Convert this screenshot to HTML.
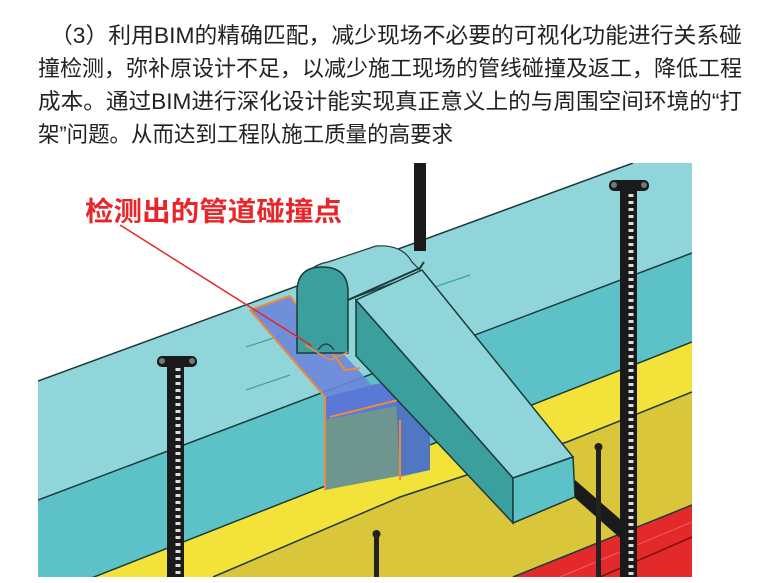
<!DOCTYPE html>
<html><head><meta charset="utf-8"><style>
html,body{margin:0;padding:0;background:#fff;width:768px;height:583px;overflow:hidden}
svg{display:block}
.t{font-family:"Liberation Sans","Noto Sans CJK SC",sans-serif;font-size:22px;fill:#222}
</style></head><body>
<svg width="768" height="583" viewBox="0 0 768 583" xmlns="http://www.w3.org/2000/svg">
<text class="t" x="50" y="43" textLength="692" lengthAdjust="spacingAndGlyphs">（3）利用BIM的精确匹配，减少现场不必要的可视化功能进行关系碰</text>
<text class="t" x="38" y="76" textLength="704" lengthAdjust="spacingAndGlyphs">撞检测，弥补原设计不足，以减少施工现场的管线碰撞及返工，降低工程</text>
<text class="t" x="38" y="109" textLength="704" lengthAdjust="spacingAndGlyphs">成本。通过BIM进行深化设计能实现真正意义上的与周围空间环境的“打</text>
<text class="t" x="38" y="142" textLength="415" lengthAdjust="spacingAndGlyphs">架”问题。从而达到工程队施工质量的高要求</text>

<defs><clipPath id="c"><rect x="38" y="163" width="654" height="414"/></clipPath></defs>
<g clip-path="url(#c)">
<!-- main duct top face -->
<polygon points="38,381 633,163 692,163 692,253 38,500" fill="#8fd5d9"/>
<!-- front face -->
<polygon points="38,500 692,253 692,342 38,599" fill="#5cc2c7"/>
<!-- yellow light -->
<polygon points="38,599 692,342 692,392 567,442 400,497 213,577 38,577" fill="#f3e23a"/>
<!-- dark yellow -->
<polygon points="213,577 400,497 567,442 692,392 692,505 513,577" fill="#d9c63a"/>
<!-- red -->
<polygon points="513,577 692,505 692,577" fill="#e4292b"/>
<line x1="600" y1="577" x2="692" y2="537" stroke="#7a1010" stroke-width="1.5"/>
<line x1="560" y1="577" x2="692" y2="522" stroke="#f06060" stroke-width="1"/>
<!-- edges -->
<g stroke="#1d3a3a" stroke-width="1.5" fill="none">
<line x1="38" y1="381" x2="633" y2="163"/>
<line x1="38" y1="500" x2="692" y2="253"/>
<line x1="38" y1="599" x2="692" y2="342"/>
<polyline points="213,577 400,497 567,442 692,392"/>
<line x1="513" y1="577" x2="692" y2="505"/>
</g>
<!-- faint teal lines -->
<g stroke="#3aa3a8" stroke-width="1.2">
<line x1="246" y1="390" x2="290" y2="375"/>
<line x1="246" y1="347" x2="280" y2="336"/>
<line x1="420" y1="292" x2="470" y2="275"/>
</g>
<!-- collision cut -->
<polygon points="250,310 290,296 372,385 325,397" fill="#6d86d8" opacity="0.9"/>
<polygon points="325,397 372,385 430,372 430,400 325,420" fill="#5a78d6"/>
<polygon points="325,420 430,400 430,470 325,490" fill="#6f968e"/>
<polygon points="395,380 430,372 430,470 400,477" fill="#4a6fcf" opacity="0.8"/>
<g stroke="#f08a3a" stroke-width="2" fill="none">
<polyline points="250,310 290,296"/>
<polyline points="250,310 325,397 325,490"/>
<line x1="330" y1="417" x2="398" y2="400"/>
<line x1="400" y1="420" x2="400" y2="480"/>
<polyline points="290,296 345,370 360,368"/>
</g>
<!-- black top pole -->
<rect x="414" y="163" width="12" height="88" fill="#1a1a1a"/>
<!-- half-round duct extrusion -->
<path d="M300,292 Q304,266 328,262 L376,246 Q402,244 412,262 L422,272 L348,300 Z" fill="#8fd5d9" stroke="#1d3a3a" stroke-width="1.2"/>
<!-- arch front -->
<path d="M297,353 L297,292 Q297,267 322,267 Q348,267 348,292 L348,353 Z" fill="#3b9f9e" stroke="#1d3a3a" stroke-width="1.5"/>
<path d="M318,350 Q326,338 334,350" fill="none" stroke="#1d3a3a" stroke-width="1.2"/>
<polyline points="305,345 330,360 348,352" fill="none" stroke="#f08a3a" stroke-width="1.5"/>
<!-- diagonal duct -->
<polygon points="356,300 513,478 513,523 356,356" fill="#3b9f9e" stroke="#1d3a3a" stroke-width="1.5"/>
<polygon points="356,300 422,270 573,457 513,478" fill="#8fd5d9" stroke="#1d3a3a" stroke-width="1.5"/>
<polygon points="513,478 573,457 575,497 513,523" fill="#5cc2c7" stroke="#1d3a3a" stroke-width="1.5"/>
<polyline points="348,300 420,268 424,262" fill="none" stroke="#1d3a3a" stroke-width="2"/>
<!-- bracket -->
<polygon points="575,480 628,526 628,545 575,498" fill="#1a1a1a"/>
<!-- rods -->
<rect x="596" y="446" width="5" height="131" fill="#222"/>
<circle cx="598.5" cy="447" r="4" fill="#222"/>
<rect x="374" y="533" width="5" height="44" fill="#222"/>
<circle cx="376.5" cy="534" r="4" fill="#222"/>
<!-- hangers -->
<rect x="167" y="362" width="17" height="216" fill="#1a1a1a"/>
<line x1="178" y1="368" x2="178" y2="577" stroke="#ddd" stroke-width="5" stroke-dasharray="3 4"/>
<rect x="157" y="356" width="40" height="11" rx="5" fill="#1a1a1a"/>
<circle cx="162" cy="361" r="3" fill="#777"/><circle cx="192" cy="361" r="3" fill="#777"/>
<rect x="620" y="186" width="17" height="391" fill="#1a1a1a"/>
<line x1="631" y1="194" x2="631" y2="577" stroke="#ddd" stroke-width="5" stroke-dasharray="3 4"/>
<rect x="609" y="180" width="40" height="11" rx="5" fill="#1a1a1a"/>
<circle cx="614" cy="185" r="3" fill="#777"/><circle cx="644" cy="185" r="3" fill="#777"/>
</g>
<!-- label -->
<line x1="120" y1="225" x2="312" y2="346" stroke="#e8262a" stroke-width="1.5"/>
<text x="85" y="221" textLength="257" lengthAdjust="spacingAndGlyphs" style="font-family:'Liberation Sans','Noto Sans CJK SC',sans-serif;font-size:27px;font-weight:bold;fill:#e8262a">检测出的管道碰撞点</text>
</svg>
</body></html>
